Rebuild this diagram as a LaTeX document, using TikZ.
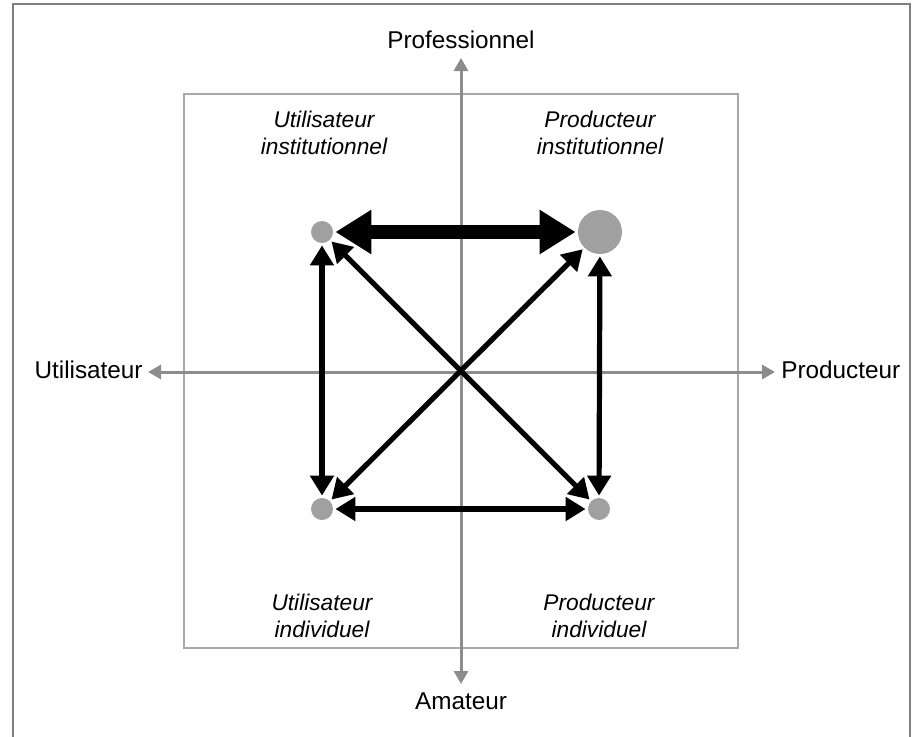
\documentclass[tikz,border=0pt]{standalone}
\usepackage{fontspec}
\setmainfont{Liberation Sans}
\usetikzlibrary{arrows.meta}
\definecolor{axisgray}{HTML}{8C8C8C}
\definecolor{dotgray}{HTML}{A0A0A0}
\definecolor{boxgray}{HTML}{A8A8A8}
\definecolor{framegray}{HTML}{808080}
\begin{document}
\begin{tikzpicture}[x=0.5pt,y=-0.5pt,
 axislabel/.style={font=\fontsize{12.15}{14}\selectfont, inner sep=0pt},
 quadlabel/.style={font=\fontsize{11.35}{13.5}\selectfont\itshape, align=center, inner sep=0pt},
 dot/.style={circle, fill=dotgray, inner sep=0pt, minimum size=11pt},
 bigdot/.style={circle, fill=dotgray, inner sep=0pt, minimum size=22pt},
 axis/.style={draw=axisgray, line width=1.5pt, {Triangle[length=6.5pt,width=7pt]}-{Triangle[length=6.5pt,width=7pt]}},
 link/.style={line width=2.6pt, {Triangle[length=10pt,width=11.5pt]}-{Triangle[length=10pt,width=11.5pt]}, shorten <=1pt, shorten >=1pt},
 strong/.style={line width=7pt, {Triangle[length=18pt,width=21pt]}-{Triangle[length=18pt,width=21pt]}, shorten <=1pt, shorten >=1pt}
]
\useasboundingbox (0,0) rectangle (912,736);
\draw[framegray, line width=1pt] (13,740) -- (13,4) -- (910,4) -- (910,740);
\draw[boxgray, line width=1pt] (184,94) rectangle (738,648);

\coordinate (atop) at (461,58);
\coordinate (abot) at (461,684);
\coordinate (aleft) at (148,372);
\coordinate (aright) at (775,372);
\draw[axis] (atop) -- (abot);
\draw[axis] (aleft) -- (aright);

\node[axislabel, anchor=base] (prof) at (461,48) {Professionnel};
\node[axislabel, anchor=base] (amat) at (461,709) {Amateur};
\node[axislabel, anchor=base east] (util) at (143,378) {Utilisateur};
\node[axislabel, anchor=base west] (prod) at (781,378) {Producteur};

\node[quadlabel, anchor=base] (ui) at (324,154) {Utilisateur\\institutionnel};
\node[quadlabel, anchor=base] (pi) at (600,154) {Producteur\\institutionnel};
\node[quadlabel, anchor=base] (uind) at (322,637) {Utilisateur\\individuel};
\node[quadlabel, anchor=base] (pind) at (599,637) {Producteur\\individuel};

\node[dot] (tl) at (322,232) {};
\node[bigdot] (tr) at (600,232) {};
\node[dot] (bl) at (322,509) {};
\node[dot] (br) at (599,509) {};

\draw[strong] (tl) -- (tr);
\draw[link] (bl) -- (br);
\draw[link] (tl) -- (bl);
\draw[link] (tr) -- (br);
\draw[link] (tl) -- (br);
\draw[link] (bl) -- (tr);
\end{tikzpicture}
\end{document}
